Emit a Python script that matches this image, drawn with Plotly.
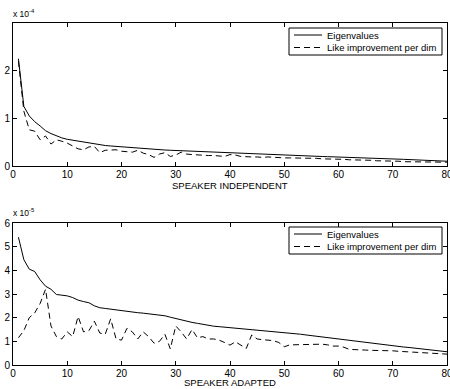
import plotly.graph_objects as go

dims = list(range(1, 81))

# Top panel (x 1e-4)
si_eig = [2.25, 1.25, 1.05, 0.93, 0.84, 0.74, 0.68, 0.63, 0.59, 0.56,
          0.54, 0.52, 0.50, 0.48, 0.46, 0.44, 0.43, 0.42, 0.41, 0.40,
          0.39, 0.38, 0.37, 0.36, 0.355, 0.35, 0.34, 0.335, 0.33, 0.325,
          0.32, 0.315, 0.31, 0.30, 0.295, 0.29, 0.285, 0.28, 0.275, 0.27,
          0.265, 0.26, 0.255, 0.25, 0.245, 0.24, 0.235, 0.23, 0.225, 0.22,
          0.217, 0.214, 0.211, 0.208, 0.205, 0.202, 0.199, 0.196, 0.193, 0.19,
          0.186, 0.182, 0.178, 0.174, 0.17, 0.166, 0.162, 0.158, 0.154, 0.15,
          0.145, 0.14, 0.135, 0.13, 0.125, 0.12, 0.115, 0.11, 0.105, 0.10]
si_like = [2.2, 1.15, 0.76, 0.73, 0.55, 0.63, 0.46, 0.55, 0.52, 0.48,
           0.42, 0.36, 0.34, 0.40, 0.41, 0.28, 0.33, 0.33, 0.34, 0.31,
           0.30, 0.29, 0.33, 0.27, 0.24, 0.18, 0.25, 0.28, 0.20, 0.23,
           0.29, 0.25, 0.24, 0.23, 0.23, 0.22, 0.22, 0.21, 0.20, 0.24,
           0.23, 0.20, 0.19, 0.19, 0.19, 0.18, 0.19, 0.18, 0.18, 0.17,
           0.17, 0.17, 0.16, 0.16, 0.16, 0.16, 0.15, 0.15, 0.15, 0.14,
           0.14, 0.13, 0.13, 0.13, 0.12, 0.12, 0.11, 0.11, 0.10, 0.10,
           0.10, 0.09, 0.09, 0.09, 0.08, 0.08, 0.08, 0.08, 0.08, 0.08]

# Bottom panel (x 1e-5)
sa_eig = [5.4, 4.45, 4.05, 3.95, 3.6, 3.33, 3.2, 2.98, 2.95, 2.92,
          2.85, 2.74, 2.68, 2.63, 2.5, 2.42, 2.39, 2.36, 2.31, 2.27,
          2.25, 2.23, 2.21, 2.19, 2.17, 2.15, 2.12, 2.08, 2.02, 1.96,
          1.9, 1.84, 1.8, 1.76, 1.71, 1.67, 1.64, 1.62, 1.6, 1.58,
          1.56, 1.54, 1.53, 1.51, 1.49, 1.47, 1.45, 1.43, 1.40, 1.37,
          1.35, 1.32, 1.3, 1.27, 1.24, 1.21, 1.18, 1.15, 1.12, 1.09,
          1.06, 1.04, 1.02, 1.0, 0.97, 0.94, 0.91, 0.88, 0.85, 0.82,
          0.79, 0.76, 0.74, 0.71, 0.69, 0.66, 0.64, 0.61, 0.59, 0.56]
sa_like = [1.15, 1.45, 2.0, 2.2, 2.6, 3.2, 1.65, 1.2, 1.1, 1.4,
           1.2, 2.05, 1.4, 1.45, 1.85, 1.35, 1.3, 1.95, 1.1, 1.05,
           1.55, 1.4, 1.1, 1.4, 1.2, 0.92, 1.0, 1.3, 0.68, 1.65,
           1.4, 1.1, 1.5, 1.15, 1.2, 1.1, 1.1, 1.05, 0.95, 0.84,
           0.98, 0.85, 0.70, 1.27, 1.1, 1.07, 1.05, 1.03, 0.95, 0.77,
           0.85, 0.86, 0.87, 0.87, 0.88, 0.89, 0.88, 0.85, 0.8, 0.8,
           0.75, 0.66, 0.64, 0.63, 0.63, 0.62, 0.62, 0.61, 0.6, 0.6,
           0.58, 0.57, 0.55, 0.53, 0.52, 0.5, 0.49, 0.48, 0.47, 0.46]

x_ticks = [0, 10, 20, 30, 40, 50, 60, 70, 80]
top_yticks = [0, 1, 2]
bot_yticks = [0, 1, 2, 3, 4, 5, 6]
series_names = ["Eigenvalues", "Like improvement per dim"]
panel_titles = ["SPEAKER INDEPENDENT", "SPEAKER ADAPTED"]
multipliers = ["x 10<sup>-4</sup>", "x 10<sup>-5</sup>"]

FONT = "Liberation Sans, Arial, sans-serif"
dash = "6px,4px"

# pixel layout helpers (figure 450x389, plot area x 13..447, y 23..365)
L, R, T, B = 13, 3, 23, 24
PW, PH = 450 - L - R, 389 - T - B


def px(xp):
    return (xp - L) / PW


def py(yp):
    return (389 - B - yp) / PH


fig = go.Figure()
fig.add_trace(go.Scatter(x=dims, y=si_eig, mode="lines", name=series_names[0],
                         line=dict(color="black", width=1), xaxis="x", yaxis="y"))
fig.add_trace(go.Scatter(x=dims, y=si_like, mode="lines", name=series_names[1],
                         line=dict(color="black", width=1, dash=dash), xaxis="x", yaxis="y"))
fig.add_trace(go.Scatter(x=dims, y=sa_eig, mode="lines", name=series_names[0],
                         line=dict(color="black", width=1), xaxis="x2", yaxis="y2"))
fig.add_trace(go.Scatter(x=dims, y=sa_like, mode="lines", name=series_names[1],
                         line=dict(color="black", width=1, dash=dash), xaxis="x2", yaxis="y2"))

axis_common = dict(showline=True, linecolor="black", linewidth=1, mirror="ticks",
                   ticks="inside", ticklen=4, tickcolor="black", showgrid=False,
                   zeroline=False, ticklabeloverflow="allow",
                   tickfont=dict(family=FONT, size=10, color="black"))

fig.update_layout(
    width=450, height=389,
    margin=dict(l=L, r=R, t=T, b=B, autoexpand=False),
    paper_bgcolor="white", plot_bgcolor="white",
    font=dict(family=FONT, size=10, color="black"),
    showlegend=False,
    xaxis=dict(domain=[0, 1], range=[0, 80], tickvals=x_ticks, anchor="y",
               ticklabelstandoff=-1, **axis_common),
    yaxis=dict(domain=[py(166), 1], range=[0, 3.0], tickvals=top_yticks, anchor="x", **axis_common),
    xaxis2=dict(domain=[0, 1], range=[0, 80], tickvals=x_ticks, anchor="y2",
                ticklabelstandoff=-1, **axis_common),
    yaxis2=dict(domain=[0, py(223)], range=[0, 6], tickvals=bot_yticks, anchor="x2", **axis_common),
)

# panel titles and exponent labels
fig.add_annotation(text=panel_titles[0], xref="paper", yref="paper", x=0.5, y=py(185),
                   showarrow=False, font=dict(family=FONT, size=9.5), xanchor="center", yanchor="middle")
fig.add_annotation(text=panel_titles[1], xref="paper", yref="paper", x=0.5, y=py(382),
                   showarrow=False, font=dict(family=FONT, size=9.5), xanchor="center", yanchor="middle")
fig.add_annotation(text=multipliers[0], xref="paper", yref="paper", x=px(11), y=py(21),
                   showarrow=False, font=dict(family=FONT, size=8.5), xanchor="left", yanchor="bottom")
fig.add_annotation(text=multipliers[1], xref="paper", yref="paper", x=px(11), y=py(220),
                   showarrow=False, font=dict(family=FONT, size=8.5), xanchor="left", yanchor="bottom")

# hand-drawn legends (box, line samples, labels) in each panel
for top in (28, 227):
    fig.add_shape(type="rect", xref="paper", yref="paper",
                  x0=px(289), x1=px(442), y0=py(top), y1=py(top + 27),
                  line=dict(color="black", width=1), fillcolor="white", layer="above")
    y1, y2 = top + 7, top + 19.5
    fig.add_shape(type="line", xref="paper", yref="paper", x0=px(294), x1=px(322),
                  y0=py(y1), y1=py(y1), line=dict(color="black", width=1), layer="above")
    fig.add_shape(type="line", xref="paper", yref="paper", x0=px(294), x1=px(322),
                  y0=py(y2), y1=py(y2), line=dict(color="black", width=1, dash=dash), layer="above")
    fig.add_annotation(text=series_names[0], xref="paper", yref="paper", x=px(325), y=py(y1),
                       showarrow=False, font=dict(family=FONT, size=9.5), xanchor="left", yanchor="middle")
    fig.add_annotation(text=series_names[1], xref="paper", yref="paper", x=px(325), y=py(y2),
                       showarrow=False, font=dict(family=FONT, size=9.5), xanchor="left", yanchor="middle")

fig.write_html("out.html", config={"displayModeBar": False},
               post_script="document.body.style.margin='0';document.body.style.overflow='hidden';")
